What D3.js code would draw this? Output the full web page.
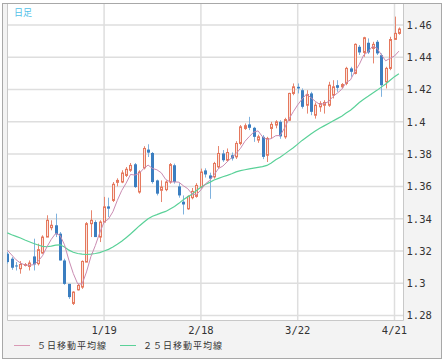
<!DOCTYPE html>
<html>
<head>
<meta charset="utf-8">
<script src="https://cdn.jsdelivr.net/npm/d3@7"></script>
<style>
  body { margin: 0; background: #fff; }
  svg { display: block; }
</style>
</head>
<body>
<div id="container"></div>
<script>
// daily candles, weekdays 2010-12-20 .. 2011-04-22
const opens = [1.3183,1.3152,1.3110,1.3090,1.3110,1.3104,1.3166,1.3121,1.3187,1.3286,
  1.3344,1.3359,1.3307,1.3141,1.2996,1.2875,1.2959,1.2976,1.3131,1.3369,
  1.3379,1.3286,1.3379,1.3476,1.3513,1.3625,1.3627,1.3668,1.3700,1.3737,
  1.3565,1.3715,1.3828,1.3807,1.3637,1.3576,1.3580,1.3627,1.3731,1.3600,
  1.3505,1.3461,1.3530,1.3538,1.3596,1.3699,1.3668,1.3659,1.3721,1.3804,
  1.3762,1.3793,1.3783,1.3866,1.3959,1.3984,1.3963,1.3887,1.3907,1.3793,
  1.3959,1.3980,1.4000,1.3907,1.4010,1.4176,1.4217,1.4196,1.4103,1.4176,
  1.4041,1.4093,1.4103,1.4103,1.4165,1.4227,1.4217,1.4238,1.4331,1.4300,
  1.4465,1.4430,1.4490,1.4455,1.4496,1.4413,1.4248,1.4331,1.4511,1.4548];
const highs = [1.3193,1.3162,1.3131,1.3137,1.3125,1.3141,1.3276,1.3245,1.3297,1.3421,
  1.3390,1.3431,1.3317,1.3152,1.2996,1.2950,1.2996,1.3141,1.3379,1.3452,
  1.3390,1.3390,1.3535,1.3530,1.3627,1.3650,1.3700,1.3720,1.3745,1.3745,
  1.3700,1.3849,1.3861,1.3813,1.3642,1.3637,1.3637,1.3745,1.3741,1.3620,
  1.3544,1.3544,1.3590,1.3620,1.3710,1.3712,1.3685,1.3752,1.3850,1.3825,
  1.3835,1.3810,1.3880,1.3980,1.3990,1.4031,1.3969,1.3920,1.3918,1.3907,
  1.4000,1.4010,1.4010,1.4025,1.4180,1.4238,1.4238,1.4207,1.4196,1.4186,
  1.4120,1.4128,1.4134,1.4248,1.4258,1.4258,1.4240,1.4341,1.4341,1.4486,
  1.4476,1.4527,1.4517,1.4496,1.4507,1.4424,1.4341,1.4527,1.4652,1.4585];
const lows = [1.3121,1.3083,1.3079,1.3059,1.3104,1.3079,1.3079,1.3110,1.3183,1.3286,
  1.3328,1.3286,1.3141,1.2990,1.2903,1.2865,1.2955,1.2965,1.3131,1.3286,
  1.3286,1.3255,1.3379,1.3410,1.3503,1.3600,1.3620,1.3658,1.3690,1.3590,
  1.3555,1.3705,1.3782,1.3617,1.3544,1.3503,1.3570,1.3617,1.3617,1.3530,
  1.3426,1.3455,1.3520,1.3530,1.3586,1.3655,1.3523,1.3648,1.3710,1.3752,
  1.3752,1.3760,1.3770,1.3855,1.3950,1.3949,1.3876,1.3870,1.3769,1.3751,
  1.3896,1.3960,1.3895,1.3895,1.4005,1.4165,1.4176,1.4082,1.4051,1.4041,
  1.4020,1.4062,1.4051,1.4093,1.4145,1.4186,1.4207,1.4227,1.4279,1.4294,
  1.4414,1.4403,1.4420,1.4362,1.4414,1.4155,1.4207,1.4320,1.4507,1.4540];
const closes = [1.3131,1.3096,1.3104,1.3116,1.3116,1.3125,1.3116,1.3208,1.3286,1.3390,
  1.3359,1.3303,1.3141,1.2996,1.2914,1.2945,1.2986,1.3135,1.3369,1.3390,
  1.3286,1.3379,1.3473,1.3462,1.3613,1.3637,1.3683,1.3706,1.3730,1.3596,
  1.3689,1.3835,1.3809,1.3627,1.3555,1.3596,1.3627,1.3735,1.3627,1.3544,
  1.3488,1.3538,1.3569,1.3606,1.3689,1.3674,1.3648,1.3742,1.3804,1.3762,
  1.3810,1.3773,1.3866,1.3969,1.3976,1.3963,1.3907,1.3907,1.3783,1.3897,
  1.3984,1.4000,1.3910,1.4014,1.4176,1.4217,1.4207,1.4093,1.4169,1.4062,
  1.4103,1.4113,1.4120,1.4227,1.4217,1.4211,1.4231,1.4331,1.4310,1.4480,
  1.4430,1.4521,1.4430,1.4480,1.4424,1.4227,1.4331,1.4510,1.4548,1.4575];

// moving averages
const ma5 = [1.3205,1.3175,1.3145,1.3125,1.3113,1.3111,1.3115,1.3136,1.3170,1.3225,
  1.3272,1.3309,1.3296,1.3238,1.3143,1.3060,1.2996,1.2995,1.3070,1.3165,
  1.3233,1.3312,1.3379,1.3398,1.3443,1.3513,1.3574,1.3620,1.3674,1.3670,
  1.3681,1.3711,1.3732,1.3711,1.3703,1.3684,1.3643,1.3628,1.3628,1.3626,
  1.3604,1.3586,1.3553,1.3549,1.3578,1.3615,1.3637,1.3672,1.3711,1.3726,
  1.3753,1.3778,1.3803,1.3836,1.3879,1.3909,1.3936,1.3944,1.3907,1.3891,
  1.3896,1.3914,1.3915,1.3961,1.4017,1.4063,1.4105,1.4141,1.4172,1.4150,
  1.4127,1.4108,1.4113,1.4125,1.4156,1.4178,1.4201,1.4243,1.4260,1.4313,
  1.4356,1.4414,1.4434,1.4468,1.4457,1.4416,1.4378,1.4394,1.4408,1.4438];
const ma25 = [1.3312,1.3300,1.3290,1.3280,1.3268,1.3257,1.3246,1.3237,1.3228,1.3226,
  1.3230,1.3236,1.3238,1.3225,1.3205,1.3192,1.3184,1.3180,1.3178,1.3180,
  1.3184,1.3190,1.3200,1.3210,1.3225,1.3242,1.3260,1.3282,1.3305,1.3330,
  1.3355,1.3378,1.3400,1.3415,1.3425,1.3436,1.3445,1.3460,1.3475,1.3495,
  1.3518,1.3535,1.3552,1.3575,1.3595,1.3612,1.3625,1.3640,1.3650,1.3660,
  1.3668,1.3678,1.3690,1.3698,1.3703,1.3708,1.3713,1.3718,1.3722,1.3730,
  1.3745,1.3765,1.3780,1.3800,1.3820,1.3840,1.3862,1.3885,1.3905,1.3925,
  1.3943,1.3960,1.3975,1.3990,1.4005,1.4020,1.4035,1.4055,1.4072,1.4095,
  1.4120,1.4140,1.4158,1.4177,1.4195,1.4215,1.4235,1.4258,1.4280,1.4298];

const tickDates = ["2011-01-19", "2011-02-18", "2011-03-22", "2011-04-21"];
const priceTicks = [1.28, 1.30, 1.32, 1.34, 1.36, 1.38, 1.40, 1.42, 1.44, 1.46];
const legendLabels = ["５日移動平均線", "２５日移動平均線"];
const titleText = "日足";

document.addEventListener("DOMContentLoaded", function () {
  const width = 446, height = 362;
  const plot = { left: 7, right: 403.5, top: 4, bottom: 320 };

  const parse = d3.timeParse("%Y-%m-%d");
  // trading days (weekdays) for the candle categories
  const dates = d3.timeDay.range(parse("2010-12-20"), parse("2011-04-23"))
    .filter(d => d.getDay() !== 0 && d.getDay() !== 6);

  const candles = dates.map((d, i) => ({
    date: d, open: opens[i], high: highs[i], low: lows[i], close: closes[i]
  }));

  const svg = d3.select("#container").append("svg")
    .attr("width", width)
    .attr("height", height);

  //----------------------------SCALES-----------------------------//
  const x = d3.scaleBand().domain(dates).range([5.1, 401.1]);
  const y = d3.scaleLinear().domain([1.28, 1.46]).range([315.5, 25]);
  const cx = d => x(d) + x.bandwidth() / 2;

  //----------------------------FRAME------------------------------//
  svg.append("rect")
    .attr("x", 2.5).attr("y", 3.5)
    .attr("width", 439).attr("height", 355)
    .attr("fill", "#f3f3f3")
    .attr("stroke", "#a8a8a8");

  svg.append("rect")
    .attr("x", plot.left).attr("y", plot.top)
    .attr("width", plot.right - plot.left).attr("height", plot.bottom - plot.top)
    .attr("fill", "#fff");

  svg.append("clipPath").attr("id", "clip")
    .append("rect")
    .attr("x", plot.left).attr("y", plot.top)
    .attr("width", plot.right - plot.left).attr("height", plot.bottom - plot.top);

  //----------------------------GRID-------------------------------//
  const grid = svg.append("g").attr("stroke", "#dedede").attr("stroke-width", 1.5);
  grid.selectAll(".hgrid")
    .data(priceTicks)
    .enter().append("line")
    .attr("x1", plot.left).attr("x2", plot.right)
    .attr("y1", d => y(d)).attr("y2", d => y(d));

  grid.selectAll(".vgrid")
    .data(tickDates.map(parse))
    .enter().append("line")
    .attr("x1", d => cx(d)).attr("x2", d => cx(d))
    .attr("y1", plot.top).attr("y2", plot.bottom);

  // plot border
  svg.append("path")
    .attr("d", `M${plot.left + 0.5},${plot.top}V${plot.bottom + 0.5}H${plot.right}V${plot.top}`)
    .attr("fill", "none")
    .attr("stroke", "#c8c8c8");

  //-----------------------------AXES------------------------------//
  const yaxis = d3.axisRight(y)
    .tickValues(priceTicks)
    .tickSize(0)
    .tickPadding(2)
    .tickFormat(d => String(+d.toFixed(2)));

  const yG = svg.append("g")
    .attr("transform", "translate(" + (plot.right + 1) + ",0)")
    .call(yaxis);

  const xaxis = d3.axisBottom(x)
    .tickValues(tickDates.map(parse))
    .tickSize(0)
    .tickPadding(7)
    .tickFormat(d3.timeFormat("%-m/%-d"));

  const xG = svg.append("g")
    .attr("transform", "translate(0," + plot.bottom + ")")
    .call(xaxis);

  [yG, xG].forEach(g => {
    g.select(".domain").remove();
    g.selectAll("text")
      .attr("fill", "#333")
      .style("font-family", "'DejaVu Sans Mono', monospace")
      .style("font-size", "10.5px");
  });

  //---------------------------CANDLES-----------------------------//
  const body = svg.append("g").attr("clip-path", "url(#clip)");
  const up = d => d.close >= d.open;

  body.selectAll(".wick")
    .data(candles)
    .enter().append("line")
    .attr("x1", d => Math.round(cx(d.date)) + 0.5)
    .attr("x2", d => Math.round(cx(d.date)) + 0.5)
    .attr("y1", d => y(d.high))
    .attr("y2", d => y(d.low))
    .attr("stroke", d => up(d) ? "#e7866f" : "#7fb2de")
    .attr("stroke-width", 1);

  body.selectAll(".candle")
    .data(candles)
    .enter().append("rect")
    .attr("x", d => Math.round(cx(d.date)) - 1 + (up(d) ? 0.5 : 0))
    .attr("width", d => up(d) ? 2 : 3)
    .attr("y", d => y(Math.max(d.open, d.close)))
    .attr("height", d => Math.max(1, Math.abs(y(d.open) - y(d.close))))
    .attr("fill", d => up(d) ? "#fbe3dc" : "#3b7ec0")
    .attr("stroke", d => up(d) ? "#e5785d" : "none")
    .attr("stroke-width", 1);

  //----------------------------LINES------------------------------//
  const line = series => d3.line()
    .x((d, i) => cx(dates[i]))
    .y(d => y(d))(series);

  body.append("path")
    .attr("d", line(ma25))
    .attr("fill", "none")
    .attr("stroke", "#5ad198")
    .attr("stroke-width", 1.2);

  body.append("path")
    .attr("d", line(ma5))
    .attr("fill", "none")
    .attr("stroke", "#c98bb1")
    .attr("stroke-width", 1);

  //----------------------------TEXTS------------------------------//
  svg.append("text")
    .attr("x", 14).attr("y", 16)
    .attr("fill", "#4fbfe8")
    .style("font-family", "'Noto Sans CJK JP', sans-serif")
    .style("font-size", "9px")
    .text(titleText);

  const legend = svg.append("g");
  const legendItems = [
    { label: legendLabels[0], color: "#d99ab5", x: 14 },
    { label: legendLabels[1], color: "#5ad198", x: 120 }
  ];
  legendItems.forEach(item => {
    legend.append("line")
      .attr("x1", item.x).attr("x2", item.x + 16)
      .attr("y1", 345.5).attr("y2", 345.5)
      .attr("stroke", item.color)
      .attr("stroke-width", 1);
    legend.append("text")
      .attr("x", item.x + 23).attr("y", 349)
      .attr("fill", "#333")
      .style("font-family", "'Noto Sans CJK JP', sans-serif")
      .style("font-size", "9px")
      .style("letter-spacing", "1px")
      .text(item.label);
  });
});
</script>
</body>
</html>
